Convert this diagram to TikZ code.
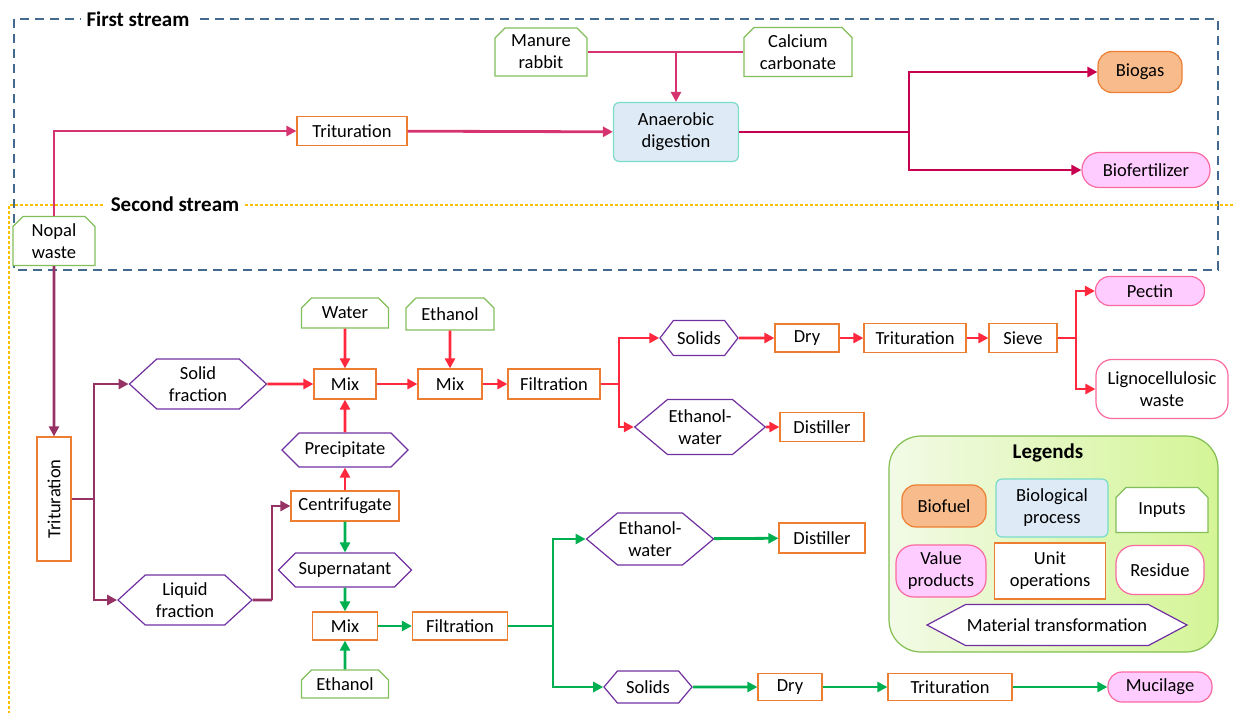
\documentclass[tikz,border=0pt]{standalone}
\usepackage{fontspec}
\setmainfont{Carlito}
\usetikzlibrary{arrows.meta,shapes.misc,shapes.symbols}

\definecolor{flowPink}{RGB}{214,52,112}
\definecolor{flowCrimson}{RGB}{200,0,80}
\definecolor{flowMaroon}{RGB}{150,50,100}
\definecolor{flowRed}{RGB}{255,40,60}
\definecolor{flowGreen}{RGB}{0,176,80}
\definecolor{opOrange}{RGB}{237,125,49}
\definecolor{inGreen}{RGB}{130,190,90}
\definecolor{trPurple}{RGB}{112,48,160}
\definecolor{fuelFill}{RGB}{248,188,140}
\definecolor{valFill}{RGB}{255,204,255}
\definecolor{valDraw}{RGB}{250,105,160}
\definecolor{bioFill}{RGB}{222,235,247}
\definecolor{bioDraw}{RGB}{120,220,200}
\definecolor{firstDash}{RGB}{68,105,143}
\definecolor{secondDot}{RGB}{255,192,0}
\definecolor{legDraw}{RGB}{130,190,80}
\definecolor{legA}{RGB}{242,250,230}
\definecolor{legB}{RGB}{212,245,150}

\tikzset{
  sz/.style 2 args={minimum width=#1pt, minimum height=#2pt},
  unitop/.style={rectangle, draw=opOrange, line width=1.2pt, fill=white},
  inputbox/.style={chamfered rectangle, chamfered rectangle corners={north west,north east},
    chamfered rectangle xsep=5pt, chamfered rectangle ysep=5pt,
    draw=inGreen, line width=1.2pt, fill=white},
  transf/.style={signal, signal to=east and west, signal pointer angle=90,
    draw=trPurple, line width=1.2pt, fill=white, inner sep=1pt},
  biofuel/.style={rectangle, rounded corners=14pt, draw=opOrange, line width=1.2pt, fill=fuelFill},
  valprod/.style={rectangle, rounded corners=14pt, draw=valDraw, line width=1.2pt, fill=valFill},
  residue/.style={rectangle, rounded corners=16pt, draw=valDraw, line width=1.2pt, fill=white},
  bioproc/.style={rectangle, rounded corners=6pt, draw=bioDraw, line width=1.2pt, fill=bioFill},
  streamlabel/.style={fill=white, font=\fontsize{21pt}{24pt}\selectfont\bfseries, inner xsep=6pt, inner ysep=0pt},
  flow/.style={line width=2.8pt, draw=#1},
}

\begin{document}
\begin{tikzpicture}[x=1pt,y=-1pt,
  >={Triangle[length=10pt,width=10pt]},
  every node/.style={font=\fontsize{18.5pt}{22pt}\selectfont, align=center, inner sep=2pt}]

	\useasboundingbox (0,0) rectangle (1233,713);

	% stream frames
	\draw[firstDash, line width=1.2pt, dash pattern=on 9pt off 6pt] (14,19) rectangle (1218,270);
	\draw[secondDot, line width=1.2pt, dash pattern=on 3pt off 2pt] (1233,205) -- (9,205) -- (9,713);
	\node[streamlabel] (firstlbl) at (138,19) {First stream};
	\node[streamlabel] (secondlbl) at (175,204) {Second stream};

	% first stream
	\node[inputbox, sz={82}{46}] (nopal) at (54,241) {Nopal\\waste};
	\node[unitop, sz={110}{29}] (trit1) at (352,131) {Trituration};
	\node[inputbox, sz={92}{45}] (manure) at (541,52) {Manure\\rabbit};
	\node[inputbox, sz={108}{45}] (calcium) at (798,52) {Calcium\\carbonate};
	\node[bioproc, sz={125}{59}] (digest) at (676,132) {Anaerobic\\digestion};
	\node[biofuel, sz={84}{41}] (biogas) at (1140,72) {Biogas};
	\node[valprod, rounded corners=17pt, sz={128}{35}] (biofert) at (1146,170) {Biofertilizer};
	\coordinate (j1) at (909,132);
	\coordinate (jin) at (676,52);

	\draw[flow=flowPink, ->] (nopal) |- (trit1);
	\draw[flow=flowPink, ->] (trit1) -- (digest);
	\draw[flow=flowPink] (manure.east) -- (calcium.west);
	\draw[flow=flowPink, ->] (jin) -- (digest);
	\draw[flow=flowCrimson] (digest) -- (j1);
	\draw[flow=flowCrimson, ->] (j1) |- (biogas);
	\draw[flow=flowCrimson, ->] (j1) |- (biofert);

	% second stream
	\node[unitop, sz={34}{124}] (trit2) at (54,499) {\rotatebox{90}{Trituration}};
	\node[transf, sz={137}{50}, signal pointer angle=85] (solid) at (198,384) {Solid\\fraction};
	\node[transf, sz={134}{50}, signal pointer angle=85] (liquid) at (185,600) {Liquid\\fraction};
	\node[inputbox, sz={87}{30}] (water) at (345,313) {Water};
	\node[unitop, sz={62}{30}] (mix1) at (345,384) {Mix};
	\node[transf, sz={126}{34}] (precip) at (345,450) {Precipitate};
	\node[unitop, sz={108}{30}] (centri) at (345,506) {Centrifugate};
	\node[transf, sz={133}{34}] (super) at (345,570) {Supernatant};
	\node[inputbox, sz={88}{32}] (ethanol1) at (450,314) {Ethanol};
	\node[unitop, sz={64}{30}] (mix2) at (450,384) {Mix};
	\node[unitop, sz={92}{30}] (filt1) at (554,384) {Filtration};
	\coordinate (j2) at (94,499);
	\coordinate (j3) at (272,600);
	\coordinate (j4) at (619,384);

	\draw[flow=flowMaroon, ->] (nopal) -- (trit2);
	\draw[flow=flowMaroon] (trit2) -- (j2);
	\draw[flow=flowMaroon, ->] (j2) |- (solid);
	\draw[flow=flowMaroon, ->] (j2) |- (liquid);
	\draw[flow=flowMaroon] (liquid) -- (j3);
	\draw[flow=flowMaroon, ->] (j3) |- (centri);

	% pectin line
	\node[transf, sz={78}{35}, signal pointer angle=105] (solids1) at (699,338) {Solids};
	\node[unitop, sz={64}{28}] (dry1) at (807,338) {Dry};
	\node[unitop, sz={102}{29}] (trit3) at (915,338) {Trituration};
	\node[unitop, sz={68}{29}] (sieve) at (1023,338) {Sieve};
	\node[valprod, sz={109}{29}] (pectin) at (1150,291) {Pectin};
	\node[residue, sz={132}{59}] (ligno) at (1162,389) {Lignocellulosic\\waste};
	\node[transf, sz={103}{55}, signal pointer angle=80] (ethw1) at (700,427) {Ethanol-\\water};
	\node[unitop, sz={84}{29}] (dist1) at (822,427) {Distiller};
	\coordinate (j5) at (1076,338);

	\draw[flow=flowRed, ->] (solid) -- (mix1);
	\draw[flow=flowRed, ->] (water) -- (mix1);
	\draw[flow=flowRed, ->] (centri) -- (precip);
	\draw[flow=flowRed, ->] (precip) -- (mix1);
	\draw[flow=flowRed, ->] (mix1) -- (mix2);
	\draw[flow=flowRed, ->] (ethanol1) -- (mix2);
	\draw[flow=flowRed, ->] (mix2) -- (filt1);
	\draw[flow=flowRed] (filt1) -- (j4);
	\draw[flow=flowRed, ->] (j4) |- (solids1);
	\draw[flow=flowRed, ->] (j4) |- (ethw1);
	\draw[flow=flowRed, ->] (solids1) -- (dry1);
	\draw[flow=flowRed, ->] (dry1) -- (trit3);
	\draw[flow=flowRed, ->] (trit3) -- (sieve);
	\draw[flow=flowRed] (sieve) -- (j5);
	\draw[flow=flowRed, ->] (j5) |- (pectin);
	\draw[flow=flowRed, ->] (j5) |- (ligno);
	\draw[flow=flowRed, ->] (ethw1) -- (dist1);

	% mucilage line
	\node[unitop, sz={65}{28}] (mix3) at (345,626) {Mix};
	\node[unitop, sz={95}{28}] (filt2) at (460,626) {Filtration};
	\node[inputbox, sz={87}{28}] (ethanol2) at (345,684) {Ethanol};
	\node[transf, sz={100}{52}, signal pointer angle=80] (ethw2) at (650,539) {Ethanol-\\water};
	\node[unitop, sz={86}{30}] (dist2) at (822,538) {Distiller};
	\node[transf, sz={88}{32}, signal pointer angle=100] (solids2) at (648,687) {Solids};
	\node[unitop, sz={64}{27}] (dry2) at (790,687) {Dry};
	\node[unitop, sz={124}{27}] (trit4) at (950,687) {Trituration};
	\node[valprod, sz={104}{30}] (mucil) at (1160,687) {Mucilage};
	\coordinate (j6) at (553,626);

	\draw[flow=flowGreen, ->] (centri) -- (super);
	\draw[flow=flowGreen, ->] (super) -- (mix3);
	\draw[flow=flowGreen, ->] (ethanol2) -- (mix3);
	\draw[flow=flowGreen, ->] (mix3) -- (filt2);
	\draw[flow=flowGreen] (filt2) -- (j6);
	\draw[flow=flowGreen, ->] (j6) |- (ethw2);
	\draw[flow=flowGreen, ->] (j6) |- (solids2);
	\draw[flow=flowGreen, ->] (ethw2) -- (dist2);
	\draw[flow=flowGreen, ->] (solids2) -- (dry2);
	\draw[flow=flowGreen, ->] (dry2) -- (trit4);
	\draw[flow=flowGreen, ->] (trit4) -- (mucil);

	% legends
	\node[rectangle, rounded corners=32pt, draw=legDraw, line width=1.2pt,
	      left color=legA, right color=legB, sz={329}{216}] (legbox) at (1053.5,544) {};
	\node[font=\fontsize{21pt}{24pt}\selectfont\bfseries] (legtitle) at (1048,453) {Legends};
	\node[biofuel, sz={84}{42}] (lfuel) at (944,506) {Biofuel};
	\node[bioproc, sz={112}{58}] (lbio) at (1052,508) {Biological\\process};
	\node[inputbox, sz={92}{45}] (linput) at (1162,510) {Inputs};
	\node[valprod, rounded corners=18pt, sz={90}{52}] (lval) at (941,571) {Value\\products};
	\node[unitop, sz={111}{56}] (lunit) at (1050,571) {Unit\\operations};
	\node[residue, rounded corners=18pt, sz={88}{49}] (lres) at (1160,570) {Residue};
	\node[transf, sz={260}{41}, signal pointer angle=56] (lmat) at (1057,625) {Material transformation};

\end{tikzpicture}
\end{document}
